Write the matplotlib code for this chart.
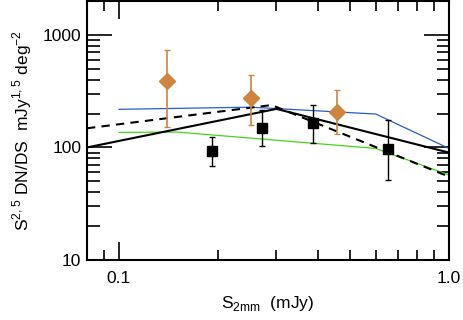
import numpy as np
import matplotlib.pyplot as plt
from matplotlib.ticker import FixedLocator, NullFormatter

plt.rcParams['font.family'] = ['Liberation Sans', 'DejaVu Sans']

# orange diamonds
dia_x = [0.14, 0.251, 0.459]
dia_y = [388, 274, 205]
dia_lo = [151, 157, 131]
dia_hi = [734, 439, 323]

# black squares
sq_x = [0.191, 0.272, 0.388, 0.655]
sq_y = [93, 148, 164, 97]
sq_lo = [69, 102, 109, 51]
sq_hi = [123, 214, 237, 174]

# model curves
blue_x = [0.1, 0.25, 0.6, 1.0]
blue_y = [218, 228, 198, 98]
green_x = [0.1, 0.15, 0.6, 1.0]
green_y = [136, 137, 98, 57]
solid_x = [0.08, 0.3, 1.0]
solid_y = [100, 220, 90]
dash_x = [0.08, 0.29, 1.0]
dash_y = [148, 238, 55]

fig = plt.figure(figsize=(4.63, 3.2), dpi=100)
ax = fig.add_axes([87/463, 60/320, 362/463, 259/320])

ax.plot(blue_x, blue_y, color='#2a5cc8', lw=0.9)
ax.plot(green_x, green_y, color='#44d41c', lw=0.9)
ax.plot(solid_x, solid_y, color='black', lw=1.5)
ax.plot(dash_x, dash_y, color='black', lw=1.5, ls=(0, (4, 3)))

ax.errorbar(dia_x, dia_y,
            yerr=[np.array(dia_y)-np.array(dia_lo), np.array(dia_hi)-np.array(dia_y)],
            fmt='D', color='#cd8540', ms=8, capsize=2.5, elinewidth=1.2, capthick=1)
ax.errorbar(sq_x, sq_y,
            yerr=[np.array(sq_y)-np.array(sq_lo), np.array(sq_hi)-np.array(sq_y)],
            fmt='s', color='black', ms=7.5, capsize=2.5, elinewidth=1, capthick=1)

ax.set_xscale('log')
ax.set_yscale('log')
ax.set_xlim(0.08, 1.0)
ax.set_ylim(10, 2000)

ax.xaxis.set_major_locator(FixedLocator([0.1, 1.0]))
ax.xaxis.set_minor_locator(FixedLocator([0.09, 0.2, 0.3, 0.4, 0.5, 0.6, 0.7, 0.8, 0.9]))
ax.set_xticklabels(['0.1', '1.0'])
ax.xaxis.set_minor_formatter(NullFormatter())
ax.yaxis.set_major_locator(FixedLocator([10, 100, 1000]))
ax.yaxis.set_minor_locator(FixedLocator([v*m for m in [10, 100, 1000] for v in range(2, 10)]))
ax.set_yticklabels(['10', '100', '1000'])
ax.yaxis.set_minor_formatter(NullFormatter())

ax.tick_params(which='both', direction='in', top=True, right=True, labelsize=12.5, width=1.2)
ax.tick_params(axis='x', which='major', length=13, pad=8)
ax.tick_params(axis='x', which='minor', length=7)
ax.tick_params(axis='y', which='major', length=18, pad=4)
ax.tick_params(axis='y', which='minor', length=9)
for s in ax.spines.values():
    s.set_linewidth(1.5)

ax.set_xlabel(r'S$_{\mathregular{2mm}}$  (mJy)', fontsize=12.5, labelpad=6)
ax.set_ylabel(r'S$^{\mathregular{2,5}}$ DN/DS  mJy$^{\mathregular{1,5}}$ deg$^{\mathregular{-2}}$', fontsize=12.5, labelpad=6)

fig.savefig('out.png', dpi=100)
